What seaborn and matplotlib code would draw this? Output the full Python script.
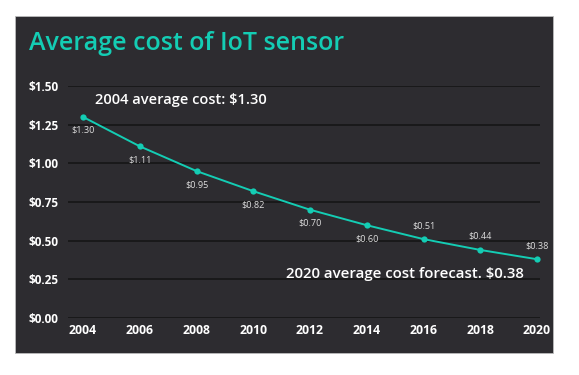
import matplotlib
matplotlib.use("Agg")
import matplotlib.pyplot as plt
import seaborn as sns
import pandas as pd
from matplotlib.patches import Rectangle

years = [2004, 2006, 2008, 2010, 2012, 2014, 2016, 2018, 2020]
costs = [1.30, 1.11, 0.95, 0.82, 0.70, 0.60, 0.51, 0.44, 0.38]
label_above = [False, False, False, False, False, False, True, True, True]
y_ticks = [0.0, 0.25, 0.5, 0.75, 1.0, 1.25, 1.5]
title = "Average cost of IoT sensor"
note_start = "2004 average cost: $1.30"
note_end = "2020 average cost forecast. $0.38"

df = pd.DataFrame({"year": years, "cost": costs})

sns.set_theme(style="dark")
plt.rcParams["font.family"] = ["Open Sans", "DejaVu Sans"]

BG = "#2d2c30"
TEAL = "#14cdb4"

fig = plt.figure(figsize=(5.79, 3.75), dpi=100)
fig.patch.set_facecolor("white")
fig.patches.append(Rectangle((15/579, 22/375), 538/579, 337/375, transform=fig.transFigure,
                             facecolor=BG, edgecolor="#bbbbbb", linewidth=0.6, zorder=-5))

ax = fig.add_axes([68/579, 57/375, 472/579, 232/375])
ax.set_zorder(2)
ax.patch.set_alpha(0)

sns.lineplot(data=df, x="year", y="cost", ax=ax, color=TEAL, linewidth=1.4,
             marker="o", markersize=4.5, markeredgewidth=0, zorder=3)

ax.set_ylim(0, 1.5)
ax.set_xlim(2004 - 15/28.375, 2020 + 3/28.375)
ax.set_yticks(y_ticks)
ax.set_yticklabels([f"${v:.2f}" for v in y_ticks])
ax.set_xticks(years)
ax.set_xticklabels([str(y) for y in years])
ax.tick_params(axis="both", colors="white", length=0)
ax.tick_params(axis="y", labelsize=8.5, pad=7)
ax.tick_params(axis="x", labelsize=8.8, pad=4)
for lab in ax.get_xticklabels() + ax.get_yticklabels():
    lab.set_fontweight("bold")
ax.grid(axis="y", color="#161616", linewidth=1.2)
ax.grid(axis="x", visible=False)
ax.set_axisbelow(True)
for s in ax.spines.values():
    s.set_visible(False)
ax.set_xlabel("")
ax.set_ylabel("")

for x, y, above in zip(years, costs, label_above):
    ax.annotate(f"${y:.2f}", (x, y), xytext=(0, 6.5 if above else -6.5), textcoords="offset points",
                ha="center", va="bottom" if above else "top", color="#dddddd", fontsize=6.6)

ax.text(2004.42, 1.41, note_start, color="white", fontsize=10.5, fontweight="semibold",
        ha="left", va="center")
ax.text(2020 - 13/28.375, 0.285, note_end, color="white", fontsize=10.8, fontweight="semibold",
        ha="right", va="center")

fig.text(29/579, 1 - 43/375, title, color=TEAL, fontsize=18, fontweight="semibold",
         ha="left", va="center")

fig.savefig("out.png", dpi=100, facecolor="white")
